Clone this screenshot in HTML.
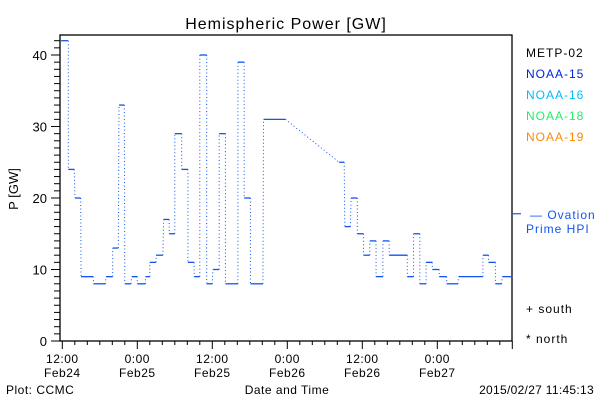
<!DOCTYPE html>
<html><head><meta charset="utf-8"><style>
html,body{margin:0;padding:0;background:#fff;}
svg{display:block;font-family:"Liberation Sans",sans-serif;}
</style></head><body>
<svg id="chart" width="600" height="400" viewBox="0 0 600 400" xmlns="http://www.w3.org/2000/svg">
<text x="286" y="29" font-size="16" letter-spacing="1" text-anchor="middle">Hemispheric Power [GW]</text>
<rect x="60" y="35" width="452" height="306" fill="none" stroke="#000" stroke-width="1.3"/>
<g id="yaxis"></g>
<g id="xaxis"></g>
<g id="series"></g>
<text transform="translate(18,189) rotate(-90)" font-size="13" text-anchor="middle">P [GW]</text>
<text x="287" y="394" font-size="12" letter-spacing="0.5" text-anchor="middle">Date and Time</text>
<text x="6" y="394" font-size="12" letter-spacing="0.5">Plot: CCMC</text>
<text x="594" y="394" font-size="12" letter-spacing="0.3" text-anchor="end">2015/02/27 11:45:13</text>
<g font-size="12" letter-spacing="1">
<text x="526" y="57" fill="#000">METP-02</text>
<text x="526" y="78" fill="#0022dd">NOAA-15</text>
<text x="526" y="99" fill="#00bbff">NOAA-16</text>
<text x="526" y="120" fill="#22ee66">NOAA-18</text>
<text x="526" y="141" fill="#ff8800">NOAA-19</text>
<text x="530" y="219" fill="#1155ee">— Ovation</text>
<text x="526" y="233" fill="#1155ee">Prime HPI</text>
<text x="526" y="313" fill="#000">+ south</text>
<text x="526" y="343" fill="#000">* north</text>
</g>
</svg>
<script>
const segStart=[-0.2,0.96,2.03,3.0,5.0,7.0,8.06,9.07,10.0,11.1,12.0,13.3,14.0,15.0,16.2,17.1,18.0,19.1,20.1,21.1,22.0,23.1,24.1,25.1,26.1,28.1,29.1,30.1,32.2,44.3,45.2,46.2,47.2,48.2,49.2,50.2,51.3,52.3,55.2,56.2,57.2,58.2,59.2,60.3,61.5,63.4,67.3,68.2,69.3,70.4];
const segEnd=[0.96,1.92,2.94,4.96,6.9,8.06,8.96,9.92,11.0,12.0,13.3,14.0,15.0,16.1,17.1,18.0,19.1,20.1,21.1,22.0,23.1,24.0,25.1,26.1,28.1,29.1,30.1,32.1,35.7,45.1,46.1,47.2,48.2,49.2,50.2,51.3,52.3,55.2,56.2,57.2,58.2,59.2,60.3,61.5,63.3,67.3,68.2,69.3,70.3,72.0];
const powerValues=[42,24,20,9,8,9,13,33,8,9,8,9,11,12,17,15,29,24,11,9,40,8,10,29,8,39,20,8,31,25,16,20,15,12,14,9,14,12,9,15,8,11,10,9,8,9,12,11,8,9];
const ovationMean=[17.8];
const yTicks=[0,10,20,30,40];
const xTickHours=[0,12,24,36,48,60];
const xTickLabels=[["12:00","Feb24"],["0:00","Feb25"],["12:00","Feb25"],["0:00","Feb26"],["12:00","Feb26"],["0:00","Feb27"]];
const NS="http://www.w3.org/2000/svg";
function X(h){return 62.3+h*6.25;}
function Y(v){return 341-v*7.15;}
function mk(tag,attrs,parent){const e=document.createElementNS(NS,tag);for(const k in attrs)e.setAttribute(k,attrs[k]);parent.appendChild(e);return e;}
const ya=document.getElementById('yaxis'),xa=document.getElementById('xaxis'),sg=document.getElementById('series');
for(let v=0;v<=42;v++){
  const t=mk('line',{x1:(v%10===0?51:54),x2:60,y1:Y(v),y2:Y(v),stroke:'#000','stroke-width':1},ya);
  
  
}
yTicks.forEach(v=>{
  const t=mk('text',{x:47,y:Y(v)+5,'font-size':13,'text-anchor':'end'},ya);t.textContent=v;
  
  
});
for(let h=0;h<=72;h+=2){
  const t=mk('line',{x1:X(h),x2:X(h),y1:341,y2:(h%12===0?349:345),stroke:'#000','stroke-width':1},xa);
  
  
}
xTickHours.forEach((h,i)=>{
  const t=mk('text',{x:X(h),y:363,'font-size':12,'text-anchor':'middle','letter-spacing':0.5},xa);t.textContent=xTickLabels[i][0];
  
  
  const t2=mk('text',{x:X(h),y:377,'font-size':12,'text-anchor':'middle','letter-spacing':0.5},xa);t2.textContent=xTickLabels[i][1];
  
  
});
powerValues.forEach((v,i)=>{
  const s=mk('line',{x1:X(segStart[i]),x2:X(segEnd[i]),y1:Y(v),y2:Y(v),stroke:'#1155ee','stroke-width':1.3},sg);
  
  
  if(i<powerValues.length-1){
    const c=mk('line',{x1:X(segEnd[i]),x2:X(segStart[i+1]),y1:Y(v),y2:Y(powerValues[i+1]),stroke:'#1155ee','stroke-width':1,'stroke-dasharray':'1 2.5'},sg);
    
    
  }
});
const om=mk('line',{x1:512,x2:521,y1:Y(ovationMean[0]),y2:Y(ovationMean[0]),stroke:'#1155ee','stroke-width':1.2},sg);


</script>
</body></html>
